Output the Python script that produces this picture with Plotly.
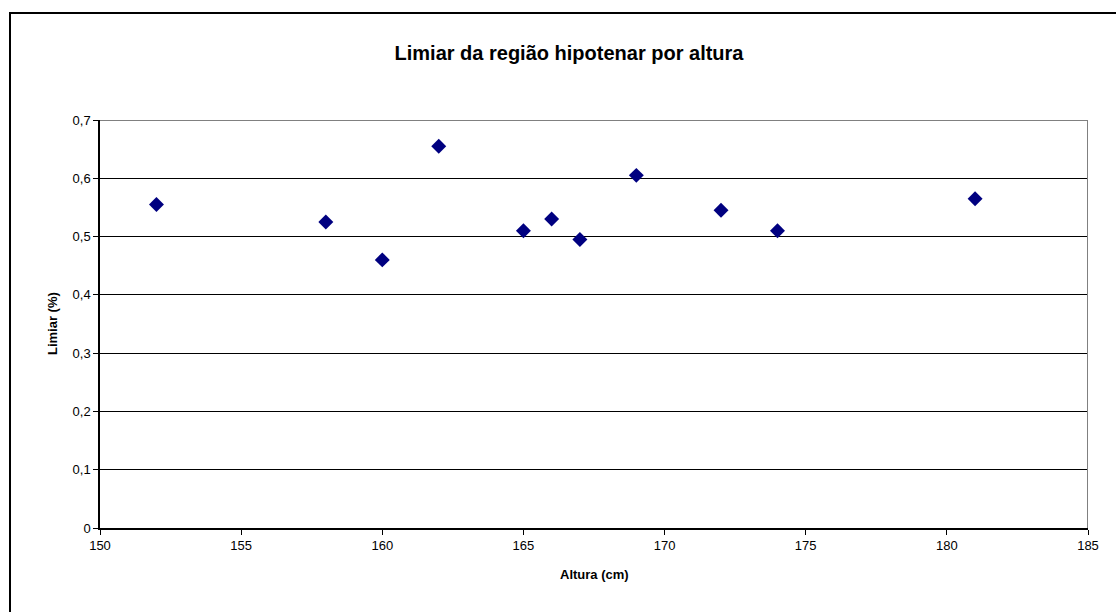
import plotly.graph_objects as go

# Altura (cm) e limiar (%) da região hipotenar
altura = [152, 158, 160, 162, 165, 166, 167, 169, 172, 174, 181]
limiar = [0.555, 0.525, 0.46, 0.655, 0.51, 0.53, 0.495, 0.605, 0.545, 0.51, 0.565]

x_range = [150, 185]
y_range = [0, 0.7]

FONT = "Liberation Sans, Arial, sans-serif"

fig = go.Figure()
fig.add_trace(go.Scatter(
    x=altura, y=limiar, mode="markers",
    marker=dict(symbol="diamond", size=11.5, color="#000080", line=dict(width=0)),
    showlegend=False, hoverinfo="x+y",
))

# outer chart frame: only its left and top edges fall inside the page
fx0 = (10 - 100) / 988
fy1 = (528 - 13) / 408
frame_path = f"M {fx0},-0.5 L {fx0},{fy1} L 1.5,{fy1}"

fig.update_layout(
    width=1116, height=612,
    margin=dict(l=100, r=28, t=120, b=84),
    paper_bgcolor="white", plot_bgcolor="white",
    separators=", ",
    font=dict(family=FONT, size=13, color="black"),
    title=dict(
        text="<b>Limiar da região hipotenar por altura</b>",
        font=dict(family=FONT, size=20, color="black"),
        xref="container", x=569 / 1116, xanchor="center",
        yref="container", y=1 - 53 / 612, yanchor="middle",
    ),
    xaxis=dict(
        range=x_range, dtick=5, tick0=150, showgrid=False, zeroline=False,
        showline=True, linecolor="black", linewidth=1.5,
        ticks="outside", ticklen=5, tickcolor="black", tickwidth=1,
        tickfont=dict(size=13), fixedrange=True,
    ),
    yaxis=dict(
        range=y_range, dtick=0.1, tick0=0, showgrid=True, gridcolor="black",
        gridwidth=1, zeroline=False,
        showline=True, linecolor="black", linewidth=1.5,
        ticks="outside", ticklen=5, tickcolor="black", tickwidth=1,
        tickfont=dict(size=13), fixedrange=True,
    ),
    annotations=[
        dict(text="<b>Altura (cm)</b>", xref="paper", yref="paper",
             x=0.5, y=(528 - 574) / 408, xanchor="center", yanchor="middle",
             showarrow=False, font=dict(family=FONT, size=13, color="black")),
        dict(text="<b>Limiar (%)</b>", xref="paper", yref="paper",
             x=(52 - 100) / 988, y=0.5, xanchor="center", yanchor="middle",
             textangle=-90, showarrow=False,
             font=dict(family=FONT, size=13, color="black")),
    ],
    shapes=[
        # gray plot-area border on top and right
        dict(type="path", xref="x", yref="y",
             path=f"M {x_range[0]},{y_range[1]} L {x_range[1]},{y_range[1]} L {x_range[1]},{y_range[0]}",
             line=dict(color="#808080", width=2), layer="above"),
        dict(type="path", xref="paper", yref="paper", path=frame_path,
             line=dict(color="black", width=2), layer="below"),
    ],
)

fig.write_html("out.html")
